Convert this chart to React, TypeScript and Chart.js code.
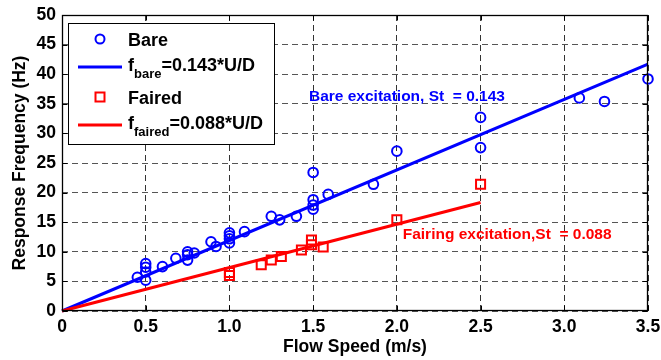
import React, { useEffect, useRef } from 'react';
import { Chart, registerables } from 'chart.js';

Chart.register(...registerables);

// ---- data ----
const bareSpeed = [0.45, 0.5, 0.5, 0.5, 0.5, 0.6, 0.68, 0.75, 0.75, 0.75, 0.79, 0.89, 0.92, 1.0, 1.0, 1.0, 1.0, 1.09, 1.25, 1.3, 1.4, 1.5, 1.5, 1.5, 1.5, 1.59, 1.86, 2.0, 2.5, 2.5, 3.09, 3.24, 3.5];
const bareFreq = [5.7, 8.0, 7.4, 6.6, 5.2, 7.5, 8.9, 10.0, 9.5, 8.6, 9.8, 11.7, 10.9, 13.2, 12.7, 12.2, 11.5, 13.4, 16.0, 15.4, 16.0, 23.4, 18.8, 17.9, 17.2, 19.7, 21.4, 27.0, 32.7, 27.6, 36.0, 35.4, 39.2];

const fairedSpeed = [1.0, 1.0, 1.19, 1.25, 1.31, 1.43, 1.49, 1.49, 1.56, 2.0, 2.5];
const fairedFreq = [6.0, 6.5, 7.8, 8.6, 9.2, 10.3, 12.0, 11.2, 10.8, 15.4, 21.4];

// Strouhal fits f = St * U / D
const strouhal = [0.143, 0.088];
const diameter = 0.012;
const bareFitSpeed = [0, 3.5];
const fairedFitSpeed = [0, 2.5];

const xTicks = [0, 0.5, 1, 1.5, 2, 2.5, 3, 3.5];
const yTicks = [0, 5, 10, 15, 20, 25, 30, 35, 40, 45, 50];

const legendLabels = ['Bare', 'f', 'bare', '=0.143*U/D', 'Faired', 'f', 'faired', '=0.088*U/D'];
const annotationTexts = ['Bare excitation, St  = 0.143', 'Fairing excitation,St  = 0.088'];

const FONT = '"Liberation Sans", Arial, Helvetica, sans-serif';
const BLUE = '#0000ff';
const RED = '#ff0000';

const toPts = (xs: number[], ys: number[]) => xs.map((x, i) => ({ x, y: ys[i] }));
const fitPts = (xs: number[], st: number) => xs.map((x) => ({ x, y: (st * x) / diameter }));

const overlayPlugin = {
  id: 'overlay',
  afterDatasetsDraw(chart: any) {
    const { ctx, chartArea: a, scales } = chart;
    const xs = scales.x;
    const ys = scales.y;
    ctx.save();
    ctx.setLineDash([]);

    // annotations (anchored in data coordinates)
    ctx.textBaseline = 'alphabetic';
    ctx.textAlign = 'left';
    ctx.font = `bold 15.5px ${FONT}`;
    ctx.fillStyle = BLUE;
    ctx.fillText(annotationTexts[0], xs.getPixelForValue(1.475), ys.getPixelForValue(35.5));
    ctx.fillStyle = RED;
    ctx.fillText(annotationTexts[1], xs.getPixelForValue(2.035), ys.getPixelForValue(12.1));

    // frame
    const L = Math.round(a.left) + 0.5;
    const T = Math.round(a.top) + 0.5;
    const R = Math.round(a.right) - 0.5;
    const B = Math.round(a.bottom) - 0.5;
    ctx.strokeStyle = '#000';
    ctx.lineWidth = 1.3;
    ctx.strokeRect(L, T, R - L, B - T);
    // inward ticks
    ctx.lineWidth = 1;
    ctx.beginPath();
    xTicks.forEach((v) => {
      const p = Math.round(xs.getPixelForValue(v)) + 0.5;
      ctx.moveTo(p, B); ctx.lineTo(p, B - 5);
      ctx.moveTo(p, T); ctx.lineTo(p, T + 5);
    });
    yTicks.forEach((v) => {
      const p = Math.round(ys.getPixelForValue(v)) + 0.5;
      ctx.moveTo(L, p); ctx.lineTo(L + 5, p);
      ctx.moveTo(R, p); ctx.lineTo(R - 5, p);
    });
    ctx.stroke();

    // legend
    const x0 = Math.round(a.left) + 6;
    const y0 = Math.round(a.top) + 8;
    ctx.fillStyle = '#fff';
    ctx.fillRect(x0, y0, 206, 121);
    ctx.strokeStyle = '#000';
    ctx.lineWidth = 1;
    ctx.strokeRect(x0 + 0.5, y0 + 0.5, 206, 121);

    const rows = [y0 + 16, y0 + 44, y0 + 74, y0 + 102];
    const mx = x0 + 32;
    const tx = x0 + 60;

    // row 1: bare marker
    ctx.strokeStyle = BLUE;
    ctx.lineWidth = 2;
    ctx.beginPath();
    ctx.arc(mx, rows[0], 4.5, 0, Math.PI * 2);
    ctx.stroke();
    // row 2: bare line
    ctx.lineWidth = 3;
    ctx.beginPath();
    ctx.moveTo(x0 + 10, rows[1]);
    ctx.lineTo(x0 + 54, rows[1]);
    ctx.stroke();
    // row 3: faired marker
    ctx.strokeStyle = RED;
    ctx.lineWidth = 2;
    ctx.strokeRect(mx - 4.5, rows[2] - 4.5, 9, 9);
    // row 4: faired line
    ctx.lineWidth = 3;
    ctx.beginPath();
    ctx.moveTo(x0 + 10, rows[3]);
    ctx.lineTo(x0 + 54, rows[3]);
    ctx.stroke();

    ctx.fillStyle = '#000';
    ctx.font = `bold 18px ${FONT}`;
    ctx.fillText(legendLabels[0], tx, rows[0] + 6.5);
    ctx.fillText(legendLabels[4], tx, rows[2] + 6.5);

    const drawSub = (row: number, main: string, sub: string, rest: string) => {
      let cx = tx;
      ctx.font = `bold 18px ${FONT}`;
      ctx.fillText(main, cx, row + 3.5);
      cx += ctx.measureText(main).width;
      ctx.font = `bold 13px ${FONT}`;
      ctx.fillText(sub, cx, row + 11);
      cx += ctx.measureText(sub).width;
      ctx.font = `bold 18px ${FONT}`;
      ctx.fillText(rest, cx, row + 3.5);
    };
    drawSub(rows[1], legendLabels[1], legendLabels[2], legendLabels[3]);
    drawSub(rows[3], legendLabels[5], legendLabels[6], legendLabels[7]);

    ctx.restore();
  },
};

export default function App() {
  const ref = useRef<HTMLCanvasElement>(null);
  useEffect(() => {
    if (!ref.current) return;
    const tickFont = { family: FONT, size: 17.5, weight: 'bold' as const };
    const chart = new Chart(ref.current, {
      type: 'scatter',
      data: {
        datasets: [
          {
            label: 'Bare',
            data: toPts(bareSpeed, bareFreq),
            pointStyle: 'circle',
            pointRadius: 4.8,
            pointBorderWidth: 2,
            borderColor: BLUE,
            backgroundColor: 'rgba(0,0,0,0)',
            pointBackgroundColor: 'rgba(0,0,0,0)',
            clip: false,
            order: 4,
          },
          {
            label: 'f_bare',
            data: fitPts(bareFitSpeed, strouhal[0]),
            showLine: true,
            pointRadius: 0,
            borderWidth: 3,
            borderColor: BLUE,
            backgroundColor: BLUE,
            clip: false,
            order: 3,
          },
          {
            label: 'Faired',
            data: toPts(fairedSpeed, fairedFreq),
            pointStyle: 'rect',
            pointRadius: 6.4,
            pointBorderWidth: 2,
            borderColor: RED,
            backgroundColor: 'rgba(0,0,0,0)',
            pointBackgroundColor: 'rgba(0,0,0,0)',
            clip: false,
            order: 2,
          },
          {
            label: 'f_faired',
            data: fitPts(fairedFitSpeed, strouhal[1]),
            showLine: true,
            pointRadius: 0,
            borderWidth: 3,
            borderColor: RED,
            backgroundColor: RED,
            clip: false,
            order: 1,
          },
        ],
      },
      options: {
        responsive: false,
        animation: false,
        devicePixelRatio: 1,
        layout: { padding: { top: 15, right: 13, left: 0, bottom: 0 } },
        plugins: { legend: { display: false }, tooltip: { enabled: false } },
        scales: {
          x: {
            type: 'linear',
            min: 0,
            max: 3.5,
            afterFit: (s: any) => { s.height = 49; s.paddingLeft = 0; s.paddingRight = 0; },
            afterBuildTicks: (s: any) => { s.ticks = xTicks.map((v) => ({ value: v })); },
            ticks: { font: tickFont, color: '#000', padding: 6, maxRotation: 0 },
            grid: { color: '#333', lineWidth: 1, drawTicks: false },
            border: { display: false, dash: [6, 4] },
            title: { display: true, text: 'Flow Speed (m/s)', color: '#000', font: { family: FONT, size: 17.5, weight: 'bold' }, padding: { top: 0, bottom: 2 } },
          },
          y: {
            type: 'linear',
            min: 0,
            max: 50,
            afterFit: (s: any) => { s.width = 62; s.paddingTop = 0; s.paddingBottom = 0; },
            afterBuildTicks: (s: any) => { s.ticks = yTicks.map((v) => ({ value: v })); },
            ticks: { font: tickFont, color: '#000', padding: 6 },
            grid: { color: '#555', lineWidth: 1, drawTicks: false },
            border: { display: false, dash: [6, 4] },
            title: { display: true, text: 'Response Frequency (Hz)', color: '#000', font: { family: FONT, size: 17.5, weight: 'bold' }, padding: { top: 10, bottom: 0 } },
          },
        },
      },
      plugins: [overlayPlugin],
    } as any);
    return () => chart.destroy();
  }, []);
  return (
    <div style={{ position: 'fixed', left: 0, top: 0, width: 661, height: 360, background: '#fff' }}>
      <canvas ref={ref} width={661} height={360} style={{ display: 'block', width: 661, height: 360 }} />
    </div>
  );
}
